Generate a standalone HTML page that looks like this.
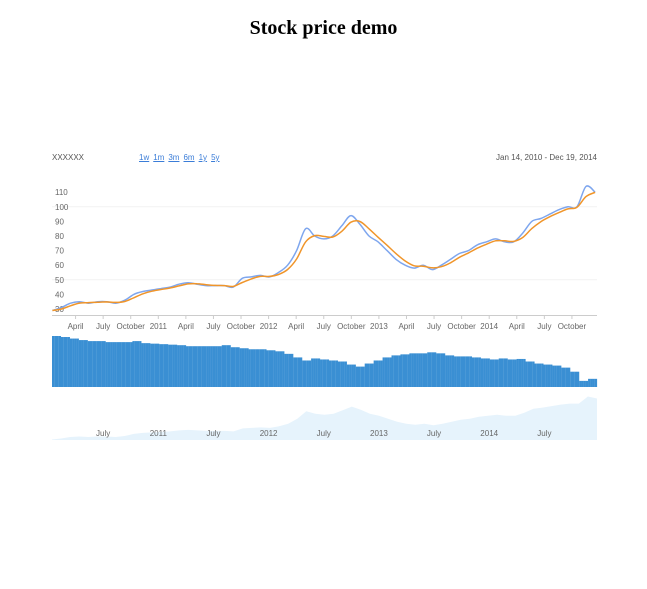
<!DOCTYPE html>
<html><head><meta charset="utf-8"><style>
body{margin:0;background:#fff;width:647px;height:589px;overflow:hidden;font-family:"Liberation Sans",sans-serif}
#title{position:absolute;left:0;width:647px;top:17px;text-align:center;font:bold 20px "Liberation Serif",serif;color:#000}
.lbl{position:absolute;font-size:8px;color:#555}
.lnk{color:#3b7dd8;text-decoration:underline;margin-right:4px;cursor:pointer}
</style></head><body>
<div id="title">Stock price demo</div>
<div class="lbl" style="left:52px;top:153px">XXXXXX</div>
<div class="lbl" style="left:139px;top:153px"><span class="lnk">1w</span><span class="lnk">1m</span><span class="lnk">3m</span><span class="lnk">6m</span><span class="lnk">1y</span><span class="lnk">5y</span></div>
<div class="lbl" style="right:50px;top:153px">Jan 14, 2010 - Dec 19, 2014</div>
<svg id="svg" width="647" height="589" style="position:absolute;left:0;top:0;pointer-events:none"></svg>
<script>
const prices=[29,31,34,35,34,35,35,34,36,40,42,43,
44,45,47,48,47,46,46,46,45,51,52,53,
52,55,60,70,85,80,78,80,87,94,88,80,
76,70,64,60,58,60,57,60,64,68,70,74,
76,78,76,76,82,90,92,95,98,100,100,114,110];
const volumes=[100,98,95,92,90,90,88,88,88,90,86,85,
84,83,82,80,80,80,80,82,78,76,74,74,
72,70,65,58,52,56,54,52,50,44,40,46,
52,58,62,64,66,66,68,66,62,60,60,58,
56,54,56,54,55,50,46,44,42,38,30,12,16];
const yTicks=[30,40,50,60,70,80,90,100,110];
const gridVals=[50,100];
const xTickLabels=["April","July","October","2011","April","July","October","2012","April","July","October","2013","April","July","October","2014","April","July","October"];
const xTickYears=[2010.25,2010.5,2010.75,2011,2011.25,2011.5,2011.75,2012,2012.25,2012.5,2012.75,2013,2013.25,2013.5,2013.75,2014,2014.25,2014.5,2014.75];
const navLabels=["July","2011","July","2012","July","2013","July","2014","July"];
const navYears=[2010.5,2011,2011.5,2012,2012.5,2013,2013.5,2014,2014.5];

const NS="http://www.w3.org/2000/svg",svg=document.getElementById('svg');
const L=52,R=597;
const x=t=>48+(t-2010)*110.3;
const tOf=i=>2010.04+i*(4.92/(prices.length-1));
const y=v=>309-(v-30)*1.46;
const vy=v=>387-v*0.51;
const ny=v=>440-(v-28)*(45/89);
function mk(tag,a){const e=document.createElementNS(NS,tag);for(const k in a)e.setAttribute(k,a[k]);svg.appendChild(e);return e;}
function txt(s,xx,yy,anchor){const e=mk('text',{x:xx,y:yy,'font-size':8,fill:'#666','text-anchor':anchor,'font-family':'Liberation Sans, sans-serif'});e.textContent=s;return e;}
gridVals.forEach(v=>{const g=mk('line',{x1:L,x2:R,y1:y(v),y2:y(v),stroke:'#f2f2f2'});

});
yTicks.forEach(v=>{const t=txt(v,55,y(v)+3,'start');

});
const ax=mk('line',{x1:L,x2:R,y1:315.5,y2:315.5,stroke:'#ccc'});


xTickYears.forEach((t,i)=>{const l=mk('line',{x1:x(t),x2:x(t),y1:315,y2:319,stroke:'#ccc'});


const tx=txt(xTickLabels[i],x(t),329,'middle');

});
const ma=prices.map((p,i)=>{const a=prices[Math.max(0,i-1)],b=prices[Math.max(0,i-2)];return p*0.5+a*0.35+b*0.15;});
function smooth(arr,fy){const P=arr.map((v,i)=>[x(tOf(i)),fy(v)]);let d='M'+P[0][0].toFixed(1)+' '+P[0][1].toFixed(1);
for(let i=0;i<P.length-1;i++){const p0=P[Math.max(0,i-1)],p1=P[i],p2=P[i+1],p3=P[Math.min(P.length-1,i+2)];
d+=' C'+(p1[0]+(p2[0]-p0[0])/6).toFixed(1)+' '+(p1[1]+(p2[1]-p0[1])/6).toFixed(1)+' '+(p2[0]-(p3[0]-p1[0])/6).toFixed(1)+' '+(p2[1]-(p3[1]-p1[1])/6).toFixed(1)+' '+p2[0].toFixed(1)+' '+p2[1].toFixed(1);}
return d;}
const pl=mk('path',{d:smooth(prices,y),fill:'none',stroke:'#7ea6ee','stroke-width':1.5});


const ml=mk('path',{d:smooth(ma,y),fill:'none',stroke:'#f0952a','stroke-width':1.5});


const step=(R-L)/volumes.length;
volumes.forEach((v,i)=>{for(let k=0;k<4;k++){const b=mk('rect',{x:L+i*step+k*step/4,y:vy(v),width:step/4+0.1,height:387-vy(v),fill:'#3a8fd3'});

}});
const nd='M'+L+' 440 '+prices.map((v,i)=>'L'+(L+i*(R-L)/(prices.length-1)).toFixed(1)+' '+ny(v).toFixed(1)).join(' ')+' L'+R+' 440 Z';
const na=mk('path',{d:nd,fill:'#e6f3fc'});


navYears.forEach((t,i)=>{const tx=txt(navLabels[i],x(t),436,'middle');

});
</script>
</body></html>
